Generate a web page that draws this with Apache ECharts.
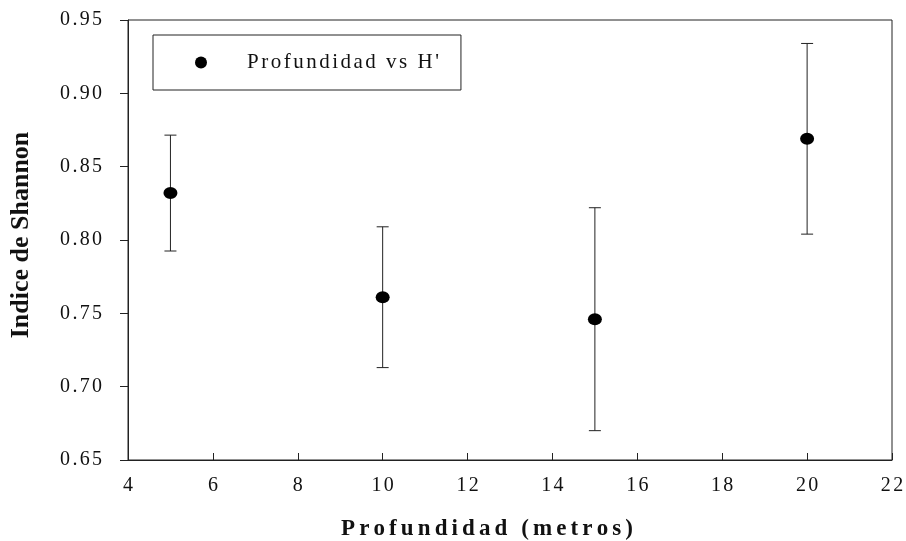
<!DOCTYPE html>
<html>
<head>
<meta charset="utf-8">
<style>
  html, body { margin: 0; padding: 0; background: #fff; }
  #chart { width: 906px; height: 541px; }
</style>
<script src="https://cdn.jsdelivr.net/npm/echarts@6/dist/echarts.min.js"></script>
</head>
<body>
<div id="chart"></div>
<script>
// Shannon diversity index (H') by sampling depth, with error bars
var depths = [5, 10, 15, 20];
var shannon = [0.832, 0.761, 0.746, 0.869];
var errorSd = [0.0395, 0.048, 0.076, 0.065];

var xTicks = { min: 4, max: 22, step: 2 };
var yTicks = { min: 0.65, max: 0.95, step: 0.05 };

var seriesName = "Profundidad vs H'";
var xTitle = 'Profundidad (metros)';
var yTitle = 'Indice de Shannon';

var SERIF = '"Liberation Serif", "Times New Roman", serif';

// letter-spaced text: every character becomes a rich token padded on its right
function spaced(s, key) {
  var chars = String(s).split('');
  return chars.map(function (c, i) {
    return '{' + (i < chars.length - 1 ? key : key + 'End') + '|' + c + '}';
  }).join('');
}
function spacedStyles(key, font, gap) {
  var r = {};
  r[key] = Object.assign({ padding: [0, gap, 0, 0] }, font);
  r[key + 'End'] = Object.assign({}, font);
  return r;
}

var tickFont = { fontFamily: SERIF, fontSize: 20, color: '#111' };
var legendFont = { fontFamily: SERIF, fontSize: 21, color: '#111' };
var xTitleFont = { fontFamily: SERIF, fontSize: 23, fontWeight: 'bold', color: '#111' };

var points = depths.map(function (d, i) { return [d, shannon[i]]; });
var bars = depths.map(function (d, i) {
  return [d, shannon[i] - errorSd[i], shannon[i] + errorSd[i]];
});

var chart = echarts.init(document.getElementById('chart'));

chart.setOption({
  animation: false,
  backgroundColor: '#fff',
  grid: {
    left: 128, right: 14, top: 20, bottom: 81,
    containLabel: false, outerBoundsMode: 'none',
    show: true, borderColor: '#222', borderWidth: 1, backgroundColor: 'transparent'
  },
  legend: {
    data: [seriesName],
    left: 153, top: 35,
    orient: 'vertical',
    icon: 'circle',
    itemWidth: 14, itemHeight: 12,
    padding: [17, 22, 17, 42],
    borderColor: '#222', borderWidth: 1,
    backgroundColor: '#fff',
    formatter: function (n) { return spaced(n, 'l'); },
    textStyle: Object.assign({
      padding: [0, 0, 0, 34],
      rich: spacedStyles('l', legendFont, 2.5)
    }, legendFont)
  },
  xAxis: {
    type: 'value',
    min: xTicks.min, max: xTicks.max, interval: xTicks.step,
    name: spaced(xTitle, 't'),
    nameLocation: 'middle',
    nameGap: 58,
    nameTextStyle: Object.assign({
      padding: [0, 46, 0, 0],
      rich: spacedStyles('t', xTitleFont, 4.1)
    }, xTitleFont),
    axisLine: { onZero: false, lineStyle: { color: '#222', width: 1 } },
    axisTick: { inside: true, length: 7, lineStyle: { color: '#222' } },
    axisLabel: Object.assign({
      margin: 16,
      formatter: function (v) { return spaced(v, 'k'); },
      rich: spacedStyles('k', tickFont, 2.3)
    }, tickFont),
    splitLine: { show: false }
  },
  yAxis: {
    type: 'value',
    min: yTicks.min, max: yTicks.max, interval: yTicks.step,
    name: yTitle,
    nameLocation: 'middle',
    nameGap: 94,
    nameTextStyle: {
      fontFamily: SERIF, fontSize: 26, fontWeight: 'bold', color: '#111',
      padding: [0, 0, 0, 10]
    },
    axisLine: { show: true, onZero: false, lineStyle: { color: '#222', width: 1 } },
    axisTick: { show: true, inside: false, length: 8, lineStyle: { color: '#222' } },
    axisLabel: Object.assign({
      margin: 26,
      formatter: function (v) { return spaced(v.toFixed(2), 'k'); },
      rich: spacedStyles('k', tickFont, 2.3)
    }, tickFont),
    splitLine: { show: false }
  },
  series: [
    {
      name: 'error',
      type: 'custom',
      data: bars,
      z: 1,
      renderItem: function (params, api) {
        var x = api.value(0);
        var lo = api.coord([x, api.value(1)]);
        var hi = api.coord([x, api.value(2)]);
        var cap = 6;
        var style = { stroke: '#222', lineWidth: 1 };
        return {
          type: 'group',
          children: [
            { type: 'line', shape: { x1: lo[0], y1: lo[1], x2: hi[0], y2: hi[1] }, style: style },
            { type: 'line', shape: { x1: hi[0] - cap, y1: hi[1], x2: hi[0] + cap, y2: hi[1] }, style: style },
            { type: 'line', shape: { x1: lo[0] - cap, y1: lo[1], x2: lo[0] + cap, y2: lo[1] }, style: style }
          ]
        };
      }
    },
    {
      name: seriesName,
      type: 'scatter',
      data: points,
      z: 3,
      symbol: 'circle',
      symbolSize: [14, 12],
      itemStyle: { color: '#000', opacity: 1 }
    }
  ]
});
</script>
</body>
</html>
